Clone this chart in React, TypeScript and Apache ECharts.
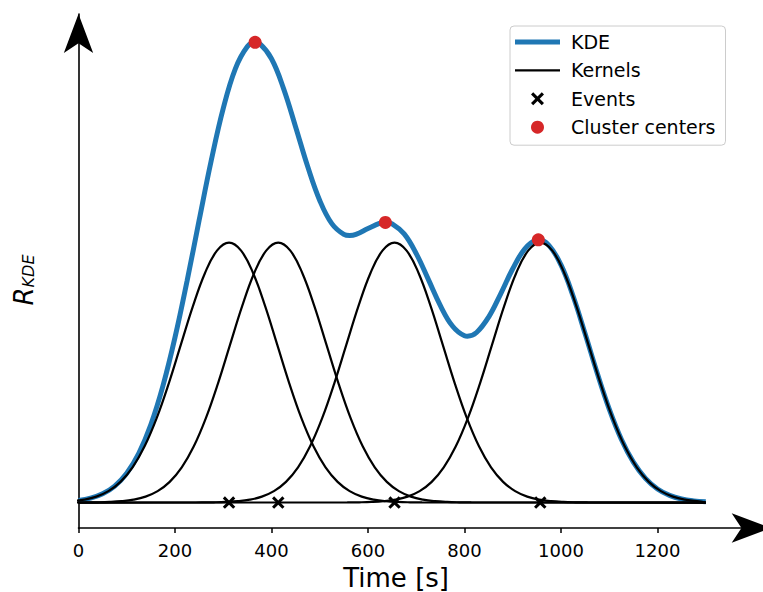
import React, { useEffect, useRef } from 'react';
import * as echarts from 'echarts';

const FONT = "'DejaVu Sans', sans-serif";

// Event times [s]
const events = [312, 414, 655, 957];

// Kernel shape (offset from event [s] -> height)
const kernelOffsets = [
  -425, -400, -375, -350, -325, -300, -275, -250, -225, -200, -175, -150, -125, -100, -75, -50, -25,
  0, 25, 50, 75, 100, 125, 150, 175, 200, 225, 250, 275, 300, 325, 350, 375, 400, 425,
];
const kernelShape = [
  0.0001, 0.0003, 0.0009, 0.0022, 0.0051, 0.0111, 0.0228, 0.0439, 0.0796, 0.1353, 0.2163, 0.3247,
  0.4578, 0.6065, 0.7548, 0.8825, 0.9692, 1.0, 0.9692, 0.8825, 0.7548, 0.6065, 0.4578, 0.3247,
  0.2163, 0.1353, 0.0796, 0.0439, 0.0228, 0.0111, 0.0051, 0.0022, 0.0009, 0.0003, 0.0001,
];
// Time range over which every curve is drawn
const timeRange = [0, 1300];

// KDE curve
const kdeTimes = [
  0, 25, 50, 75, 100, 125, 150, 175, 200, 225, 250, 275, 300, 325, 350, 366, 375, 400, 425, 450,
  475, 500, 525, 550, 562, 575, 600, 625, 636, 650, 675, 700, 725, 750, 775, 800, 806, 825, 850,
  875, 900, 925, 950, 953, 975, 1000, 1025, 1050, 1075, 1100, 1125, 1150, 1175, 1200, 1225, 1250,
  1275, 1300,
];
const kdeValues = [
  0.0079, 0.0168, 0.0336, 0.0635, 0.1129, 0.1895, 0.3, 0.4487, 0.6354, 0.8528, 1.086, 1.315,
  1.5167, 1.669, 1.7547, 1.7709, 1.7666, 1.7079, 1.5931, 1.4455, 1.293, 1.1625, 1.0733, 1.0321,
  1.0277, 1.0319, 1.0544, 1.0754, 1.0782, 1.0728, 1.0336, 0.9577, 0.8586, 0.7578, 0.6792, 0.6417,
  0.6401, 0.6544, 0.7137, 0.8034, 0.8997, 0.9762, 1.0105, 1.011, 0.9899, 0.9143, 0.7947, 0.6494,
  0.4985, 0.3598, 0.2438, 0.1553, 0.0929, 0.0522, 0.0276, 0.0137, 0.0064, 0.0028,
];

// Cluster centers
const centersX = [366, 636, 953];
const centersY = [1.771, 1.078, 1.011];

// Axis ticks
const xTicks = [0, 200, 400, 600, 800, 1000, 1200];

const X_MARKER =
  'path://M0,1.7L1.7,0L5,3.3L8.3,0L10,1.7L6.7,5L10,8.3L8.3,10L5,6.7L1.7,10L0,8.3L3.3,5Z';

function kernelData(e: number) {
  const pts = kernelOffsets
    .map((o, i) => [e + o, kernelShape[i]])
    .filter((p) => p[0] <= timeRange[1]);
  if (pts[0][0] > timeRange[0]) pts.unshift([timeRange[0], 0]);
  if (pts[pts.length - 1][0] < timeRange[1]) pts.push([timeRange[1], 0]);
  return pts;
}

function buildOption() {
  const kernelSeries = events.map((e) => ({
    name: 'Kernels',
    type: 'line',
    data: kernelData(e),
    symbol: 'none',
    smooth: 0.4,
    lineStyle: { color: '#000000', width: 2.2 },
    itemStyle: { color: '#000000' },
    z: 3,
  }));

  return {
    animation: false,
    backgroundColor: '#ffffff',
    grid: {
      left: 78.5,
      right: -7.7,
      top: 14,
      bottom: 64,
      containLabel: false,
      outerBoundsMode: 'none',
    },
    xAxis: {
      type: 'value',
      min: 0,
      max: 1434.6,
      interval: 200,
      name: 'Time [s]',
      nameLocation: 'middle',
      nameGap: 37,
      nameTextStyle: { fontFamily: FONT, fontSize: 26, color: '#000', padding: [0, 57, 0, 0] },
      axisLine: {
        onZero: false,
        symbol: ['none', 'arrow'],
        symbolSize: [22, 39],
        lineStyle: { color: '#000', width: 1.6 },
      },
      axisTick: {
        show: true,
        inside: false,
        length: 5,
        customValues: xTicks,
        lineStyle: { color: '#000', width: 1.5 },
      },
      axisLabel: {
        customValues: xTicks,
        formatter: (v: number) => String(v),
        fontFamily: FONT,
        fontSize: 18,
        color: '#000',
        margin: 13,
      },
      splitLine: { show: false },
    },
    yAxis: {
      type: 'value',
      min: -0.098,
      max: 1.88,
      name: '{r|R}{s|KDE}',
      nameLocation: 'middle',
      nameRotate: 90,
      nameGap: 42,
      nameTextStyle: {
        color: '#000',
        padding: [0, 18, 0, 0],
        rich: {
          r: { fontFamily: FONT, fontStyle: 'italic', fontSize: 26, color: '#000', verticalAlign: 'bottom', lineHeight: 28 },
          s: { fontFamily: FONT, fontStyle: 'italic', fontSize: 16, color: '#000', verticalAlign: 'bottom', lineHeight: 23 },
        },
      },
      axisLine: {
        show: true,
        onZero: false,
        symbol: ['none', 'arrow'],
        symbolSize: [22, 39],
        lineStyle: { color: '#000', width: 1.6 },
      },
      axisTick: { show: false },
      axisLabel: { show: false },
      splitLine: { show: false },
    },
    legend: {
      orient: 'vertical',
      left: 510,
      top: 26,
      padding: [6, 10, 8, 5],
      itemWidth: 45,
      itemHeight: 13,
      itemGap: 8.4,
      selectedMode: false,
      backgroundColor: 'rgba(255,255,255,0.8)',
      borderColor: '#cccccc',
      borderWidth: 1,
      borderRadius: 4,
      textStyle: { fontFamily: FONT, fontSize: 19, color: '#000', lineHeight: 20, padding: [0, 0, 0, 6] },
      data: [
        { name: 'KDE', icon: 'path://M0,0H45V5H0Z' },
        { name: 'Kernels', icon: 'path://M0,0H45V2.2H0Z' },
        { name: 'Events' },
        { name: 'Cluster centers' },
      ],
    },
    series: [
      {
        name: 'KDE',
        type: 'line',
        data: kdeTimes.map((t, i) => [t, kdeValues[i]]),
        symbol: 'none',
        smooth: 0.4,
        lineStyle: { color: '#1f77b4', width: 5 },
        itemStyle: { color: '#1f77b4' },
        z: 2,
      },
      ...kernelSeries,
      {
        name: 'Events',
        type: 'scatter',
        data: events.map((e) => [e, 0]),
        symbol: X_MARKER,
        symbolSize: 12.5,
        itemStyle: { color: '#000000', opacity: 1 },
        z: 4,
      },
      {
        name: 'Cluster centers',
        type: 'scatter',
        data: centersX.map((x, i) => [x, centersY[i]]),
        symbol: 'circle',
        symbolSize: 13,
        itemStyle: { color: '#d62728', opacity: 1 },
        z: 5,
      },
    ],
  };
}

export default function App() {
  const ref = useRef<HTMLDivElement>(null);
  useEffect(() => {
    if (!ref.current) return;
    const chart = echarts.init(ref.current, null, { renderer: 'svg' });
    chart.setOption(buildOption() as any);
    return () => chart.dispose();
  }, []);
  return (
    <div
      ref={ref}
      style={{ position: 'absolute', left: 0, top: 0, width: 763, height: 592, background: '#fff' }}
    />
  );
}
